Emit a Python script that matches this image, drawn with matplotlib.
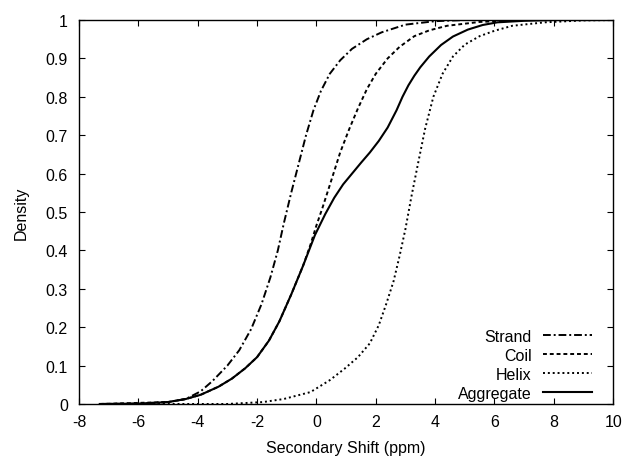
"""
Cumulative distributions of secondary chemical shifts by secondary structure.
"""

import matplotlib
matplotlib.use("Agg")
import matplotlib.pyplot as plt


# Values.
strand_x = [-7.3, -6.0, -5.0, -4.4, -3.9, -3.5, -3.0, -2.6, -2.2, -1.85, -1.55, -1.3,
            -1.1, -0.85, -0.6, -0.35, -0.1, 0.15, 0.45, 0.8, 1.2, 1.7, 2.2, 3.0,
            4.0, 5.0, 6.0, 10.0]
strand_y = [0.0, 0.001, 0.005, 0.013, 0.033, 0.06, 0.1, 0.14, 0.195, 0.26, 0.33, 0.4,
            0.47, 0.55, 0.625, 0.7, 0.765, 0.815, 0.86, 0.895, 0.925, 0.95, 0.968, 0.988,
            0.997, 1.0, 1.0, 1.0]

coil_x = [-7.3, -5.0, -4.4, -3.9, -3.3, -2.85, -2.4, -2.0, -1.6, -1.25, -0.85, -0.45,
          -0.2, 0.0, 0.2, 0.45, 0.8, 1.1, 1.4, 1.7, 2.0, 2.4, 2.8, 3.3, 3.8, 4.4,
          5.5, 7.0, 10.0]
coil_y = [0.0, 0.005, 0.013, 0.024, 0.045, 0.066, 0.093, 0.122, 0.165, 0.215, 0.285, 0.36,
          0.415, 0.465, 0.51, 0.57, 0.655, 0.715, 0.77, 0.82, 0.86, 0.9, 0.93, 0.958, 0.973, 0.985,
          0.995, 1.0, 1.0]

helix_x = [-7.3, -3.0, -1.8, -1.1, -0.2, 0.45, 0.95, 1.4, 1.8, 2.1, 2.35, 2.6, 2.8,
           3.0, 3.2, 3.42, 3.66, 3.94, 4.25, 4.6, 5.0, 5.5, 6.0, 6.6, 7.7, 9.0, 10.0]
helix_y = [0.0, 0.0, 0.005, 0.013, 0.031, 0.062, 0.092, 0.122, 0.158, 0.205, 0.26, 0.32, 0.385,
           0.456, 0.54, 0.625, 0.716, 0.8, 0.86, 0.905, 0.936, 0.958, 0.972, 0.985, 0.994, 0.999, 1.0]

agg_x = [-7.3, -6.0, -5.0, -4.4, -3.9, -3.3, -2.85, -2.4, -2.0, -1.6, -1.25, -0.85,
         -0.45, -0.05, 0.3, 0.6, 0.9, 1.2, 1.5, 1.8, 2.1, 2.4, 2.7, 2.9, 3.1, 3.3,
         3.5, 3.8, 4.2, 4.6, 5.1, 5.6, 6.1, 7.0, 8.0, 10.0]
agg_y = [0.0, 0.001, 0.005, 0.013, 0.024, 0.045, 0.066, 0.093, 0.122, 0.165, 0.215, 0.285,
         0.36, 0.44, 0.495, 0.537, 0.572, 0.6, 0.628, 0.655, 0.685, 0.72, 0.765, 0.8, 0.83, 0.855,
         0.877, 0.905, 0.935, 0.957, 0.975, 0.987, 0.994, 0.998, 1.0, 1.0]

x_ticks = [-8, -6, -4, -2, 0, 2, 4, 6, 8, 10]
y_ticks = [0, 0.1, 0.2, 0.3, 0.4, 0.5, 0.6, 0.7, 0.8, 0.9, 1]
y_tick_labels = ["0", "0.1", "0.2", "0.3", "0.4", "0.5", "0.6", "0.7", "0.8", "0.9", "1"]


plt.rcParams["font.family"] = ["Liberation Sans", "DejaVu Sans"]
plt.rcParams["font.size"] = 11.5

fig = plt.figure(figsize=(6.27, 4.6), dpi=100)
ax = fig.add_axes([0.126, 0.1196, 0.852, 0.8347])

# gnuplot-ish line styles
ax.plot(strand_x, strand_y, color="black", lw=1.4, linestyle=(0, (4, 1.5, 1, 1.5)), label="Strand")
ax.plot(coil_x, coil_y, color="black", lw=1.4, linestyle=(0, (2, 1.5)), label="Coil")
ax.plot(helix_x, helix_y, color="black", lw=1.4, linestyle=(0, (1, 1.5)), label="Helix")
ax.plot(agg_x, agg_y, color="black", lw=1.5, linestyle="-", label="Aggregate")

ax.set_xlim(-8, 10)
ax.set_ylim(0, 1)
ax.set_xticks(x_ticks)
ax.set_xticklabels([str(t) for t in x_ticks])
ax.set_yticks(y_ticks)
ax.set_yticklabels(y_tick_labels)
ax.tick_params(direction="in", length=4, width=0.8, top=True, right=True)
ax.tick_params(axis="x", pad=7)
ax.tick_params(axis="y", pad=8)
for s in ax.spines.values():
    s.set_linewidth(1.0)

ax.set_xlabel("Secondary Shift (ppm)", labelpad=8)
ax.set_ylabel("Density", labelpad=12)

leg = ax.legend(loc="lower right", bbox_to_anchor=(0.9607, 0.008), frameon=False,
                markerfirst=False, handlelength=3.1, labelspacing=0.25,
                handletextpad=0.7, borderaxespad=0.0, borderpad=0.0)

fig.savefig("out.png", dpi=100)
